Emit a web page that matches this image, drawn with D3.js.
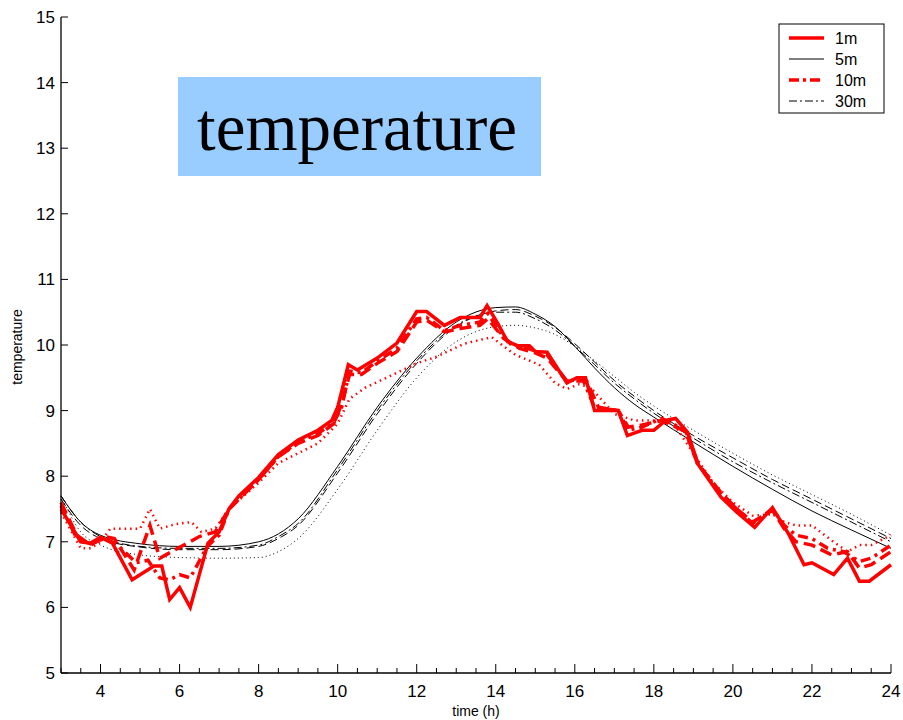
<!DOCTYPE html>
<html>
<head>
<meta charset="utf-8">
<script src="https://cdn.jsdelivr.net/npm/d3@7"></script>
<style>
  body { margin: 0; background: #fff; }
  text { font-family: Arial, "Liberation Sans", sans-serif; }
</style>
</head>
<body>
<div class="chart"></div>
<script>
const hoursRedSolid = [3.0, 3.3, 3.5, 3.75, 4.0, 4.3, 4.8, 5.35, 5.55, 5.75, 6.0, 6.27, 6.72, 7.0, 7.25, 7.5, 8.0, 8.5, 9.0, 9.5, 9.85, 10.0, 10.27, 10.5, 11.0, 11.5, 12.0, 12.25, 12.7, 13.1, 13.6, 13.78, 14.05, 14.3, 14.55, 14.85, 15.0, 15.3, 15.8, 16.05, 16.27, 16.5, 17.1, 17.33, 17.7, 18.0, 18.3, 18.55, 18.85, 19.13, 19.7, 20.1, 20.55, 21.0, 21.4, 21.8, 22.0, 22.55, 22.9, 23.2, 23.45, 24.0];
const tempRedSolid  = [7.5, 7.2, 7.0, 6.98, 7.07, 6.98, 6.42, 6.63, 6.63, 6.12, 6.3, 6.0, 6.98, 7.15, 7.5, 7.7, 7.98, 8.33, 8.55, 8.7, 8.85, 9.05, 9.7, 9.62, 9.8, 10.03, 10.51, 10.51, 10.3, 10.42, 10.42, 10.6, 10.33, 10.05, 9.99, 9.99, 9.9, 9.89, 9.42, 9.5, 9.5, 9.0, 9.0, 8.62, 8.7, 8.7, 8.85, 8.88, 8.67, 8.17, 7.68, 7.45, 7.22, 7.52, 7.13, 6.65, 6.68, 6.5, 6.75, 6.4, 6.4, 6.65];

const hoursRedDash = [3.0, 3.4, 3.75, 4.1, 4.35, 4.85, 5.25, 5.5, 5.8, 6.2, 6.5, 6.9, 7.25, 8.0, 8.5, 9.0, 9.5, 9.9, 10.1, 10.3, 10.6, 11.0, 11.5, 12.0, 12.25, 12.7, 13.1, 13.6, 13.8, 14.2, 14.6, 15.0, 15.3, 15.8, 16.3, 16.6, 17.1, 17.35, 17.7, 18.2, 18.8, 19.1, 19.7, 20.1, 20.5, 21.0, 21.3, 21.6, 22.0, 22.5, 22.9, 23.2, 23.5, 24.0];
const tempRedDash  = [7.6, 7.1, 6.95, 7.08, 7.05, 6.57, 7.25, 6.75, 6.85, 6.98, 7.08, 7.15, 7.5, 7.95, 8.3, 8.5, 8.62, 8.8, 9.1, 9.55, 9.55, 9.72, 9.9, 10.35, 10.38, 10.2, 10.25, 10.3, 10.4, 10.1, 9.95, 9.88, 9.8, 9.45, 9.45, 9.05, 9.0, 8.75, 8.78, 8.85, 8.68, 8.2, 7.75, 7.5, 7.3, 7.48, 7.2, 7.0, 6.95, 6.8, 6.85, 6.6, 6.65, 6.85];

const hoursRedDashDot = [3.0, 3.4, 3.75, 4.1, 4.4, 4.9, 5.2, 5.5, 5.75, 6.0, 6.27, 6.7, 7.0, 7.25, 8.0, 8.5, 9.0, 9.5, 9.9, 10.1, 10.3, 10.6, 11.0, 11.5, 12.0, 12.25, 12.7, 13.1, 13.6, 13.8, 14.1, 14.4, 14.8, 15.3, 15.8, 16.2, 16.5, 17.1, 17.35, 17.7, 18.2, 18.8, 19.1, 19.7, 20.1, 20.5, 21.0, 21.3, 21.6, 22.0, 22.4, 22.8, 23.2, 23.5, 24.0];
const tempRedDashDot  = [7.55, 7.05, 6.97, 7.05, 6.97, 6.68, 6.72, 6.45, 6.42, 6.5, 6.45, 6.93, 7.1, 7.5, 7.95, 8.3, 8.52, 8.65, 8.82, 9.05, 9.6, 9.58, 9.75, 9.95, 10.4, 10.42, 10.22, 10.3, 10.35, 10.48, 10.2, 10.0, 9.95, 9.85, 9.45, 9.48, 9.05, 9.0, 8.7, 8.75, 8.88, 8.7, 8.2, 7.72, 7.5, 7.28, 7.5, 7.25, 7.1, 7.05, 6.9, 6.85, 6.7, 6.75, 6.95];

const hoursRedDot = [3.0, 3.5, 3.75, 4.0, 4.25, 5.0, 5.25, 5.5, 5.9, 6.3, 6.55, 6.9, 7.25, 8.0, 8.5, 9.0, 9.5, 10.0, 10.3, 10.7, 11.3, 12.0, 12.5, 13.2, 13.9, 14.2, 14.5, 15.1, 15.5, 15.8, 16.1, 16.4, 17.0, 17.5, 18.0, 18.5, 19.0, 19.5, 20.0, 20.5, 21.0, 21.3, 21.6, 22.0, 22.5, 22.9, 23.2, 23.5, 24.0];
const tempRedDot  = [7.45, 6.9, 6.9, 7.0, 7.2, 7.2, 7.5, 7.2, 7.27, 7.3, 7.15, 7.2, 7.5, 7.9, 8.2, 8.35, 8.5, 8.8, 9.18, 9.35, 9.52, 9.72, 9.82, 10.02, 10.12, 9.98, 9.85, 9.7, 9.42, 9.33, 9.4, 9.35, 8.95, 8.85, 8.85, 8.8, 8.35, 7.9, 7.6, 7.4, 7.42, 7.3, 7.25, 7.25, 7.02, 6.85, 6.95, 6.95, 7.1];

// black (model) series
const modelHours    = [3, 3.5, 4, 5, 6, 7, 8, 8.5, 9, 10, 11, 12, 13, 14, 14.5, 15, 15.5, 16, 16.5, 17, 17.5, 18, 19, 20, 21, 22, 23, 24];
const modelSolid    = [7.7, 7.3, 7.1, 6.97, 6.93, 6.93, 7.0, 7.12, 7.35, 8.15, 9.05, 9.8, 10.35, 10.57, 10.58, 10.47, 10.28, 9.98, 9.65, 9.35, 9.1, 8.9, 8.52, 8.15, 7.8, 7.47, 7.18, 6.9];
const modelDash     = [7.65, 7.25, 7.05, 6.92, 6.88, 6.88, 6.93, 7.05, 7.25, 8.05, 8.95, 9.72, 10.28, 10.52, 10.54, 10.44, 10.27, 10.02, 9.74, 9.46, 9.22, 9.0, 8.62, 8.28, 7.95, 7.65, 7.35, 7.05];
const modelDashDot  = [7.7, 7.3, 7.08, 6.93, 6.9, 6.9, 6.95, 7.08, 7.28, 8.1, 9.0, 9.76, 10.3, 10.5, 10.5, 10.4, 10.23, 9.98, 9.7, 9.42, 9.18, 8.96, 8.58, 8.22, 7.9, 7.6, 7.3, 7.0];
const modelDot      = [7.7, 7.15, 6.95, 6.8, 6.76, 6.75, 6.76, 6.85, 7.05, 7.8, 8.7, 9.5, 10.05, 10.28, 10.3, 10.26, 10.16, 9.98, 9.76, 9.52, 9.28, 9.07, 8.7, 8.35, 8.02, 7.72, 7.42, 7.1];

const legendLabels = ["1m", "5m", "10m", "30m"];
const xTickLabels = [4, 6, 8, 10, 12, 14, 16, 18, 20, 22, 24];
const yTickLabels = [5, 6, 7, 8, 9, 10, 11, 12, 13, 14, 15];

const width = 903, height = 720;
const margin = { left: 61, right: 12, top: 17, bottom: 47 };

const svg = d3.select(".chart")
  .append("svg")
  .attr("width", width)
  .attr("height", height)
  .style("display", "block");

const xScale = d3.scaleLinear().domain([3, 24]).range([margin.left, width - margin.right]);
const yScale = d3.scaleLinear().domain([5, 15]).range([height - margin.bottom, margin.top]);

// title box
svg.append("rect")
  .attr("x", 178).attr("y", 77)
  .attr("width", 363).attr("height", 99)
  .attr("fill", "#99ccff");
svg.append("text")
  .attr("x", 357).attr("y", 150)
  .attr("text-anchor", "middle")
  .style("font-family", "'Liberation Serif', 'Times New Roman', serif")
  .style("font-size", "67px")
  .text("temperature");

const zip = (xs, ys) => xs.map((x, i) => [x, ys[i]]);

const series = [
  { pts: zip(modelHours, modelDot), color: "#000", w: 1, dash: "1,3", curve: d3.curveMonotoneX },
  { pts: zip(modelHours, modelDashDot), color: "#000", w: 1, dash: "8,3,2,3", curve: d3.curveMonotoneX },
  { pts: zip(modelHours, modelDash), color: "#000", w: 1, dash: "8,4", curve: d3.curveMonotoneX },
  { pts: zip(modelHours, modelSolid), color: "#000", w: 1, dash: null, curve: d3.curveMonotoneX },
  { pts: zip(hoursRedDot, tempRedDot), color: "#ff0000", w: 2.5, dash: "1.5,4", curve: d3.curveLinear },
  { pts: zip(hoursRedDashDot, tempRedDashDot), color: "#ff0000", w: 3.5, dash: "10,5,3,5", curve: d3.curveLinear },
  { pts: zip(hoursRedDash, tempRedDash), color: "#ff0000", w: 3.5, dash: "12,6", curve: d3.curveLinear },
  { pts: zip(hoursRedSolid, tempRedSolid), color: "#ff0000", w: 3.5, dash: null, curve: d3.curveLinear }
];

series.forEach((s) => {
  const line = d3.line()
    .x((d) => xScale(d[0]))
    .y((d) => yScale(d[1]))
    .curve(s.curve);
  svg.append("path")
    .datum(s.pts)
    .attr("d", line)
    .attr("fill", "none")
    .attr("stroke", s.color)
    .attr("stroke-width", s.w)
    .attr("stroke-dasharray", s.dash)
    .attr("stroke-linejoin", "miter");
});

// x axis: minor ticks every half hour, major ticks with labels
const xAxisY = yScale(5);
svg.append("line")
  .attr("x1", xScale(3)).attr("x2", xScale(24))
  .attr("y1", xAxisY).attr("y2", xAxisY)
  .attr("stroke", "#000").attr("stroke-width", 1.3);

const halfHours = d3.range(3, 24.01, 0.5);
svg.selectAll(".xminor")
  .data(halfHours)
  .join("line")
  .attr("class", "xminor")
  .attr("x1", (d) => xScale(d)).attr("x2", (d) => xScale(d))
  .attr("y1", xAxisY)
  .attr("y2", (d) => xTickLabels.includes(d) ? xAxisY - 9 : xAxisY - 5)
  .attr("stroke", "#000").attr("stroke-width", 1);

svg.selectAll(".xlabel")
  .data(xTickLabels)
  .join("text")
  .attr("class", "xlabel")
  .attr("x", (d) => xScale(d))
  .attr("y", xAxisY + 24)
  .attr("text-anchor", "middle")
  .style("font-size", "17px")
  .text((d) => d);

// y axis
svg.append("line")
  .attr("x1", margin.left).attr("x2", margin.left)
  .attr("y1", yScale(15)).attr("y2", yScale(5))
  .attr("stroke", "#000").attr("stroke-width", 1.3);

svg.selectAll(".ytick")
  .data(yTickLabels)
  .join("line")
  .attr("class", "ytick")
  .attr("x1", margin.left).attr("x2", margin.left + 7)
  .attr("y1", (d) => yScale(d)).attr("y2", (d) => yScale(d))
  .attr("stroke", "#000").attr("stroke-width", 1);

svg.selectAll(".ylabel")
  .data(yTickLabels)
  .join("text")
  .attr("class", "ylabel")
  .attr("x", margin.left - 6)
  .attr("y", (d) => yScale(d) + 6)
  .attr("text-anchor", "end")
  .style("font-size", "17px")
  .text((d) => d);

// axis titles
svg.append("text")
  .attr("x", (xScale(3) + xScale(24)) / 2)
  .attr("y", 716)
  .attr("text-anchor", "middle")
  .style("font-size", "14px")
  .text("time (h)");

svg.append("text")
  .attr("transform", `translate(22, ${yScale(10) + 2}) rotate(-90)`)
  .attr("text-anchor", "middle")
  .style("font-size", "14px")
  .text("temperature");

// legend
const legendStyles = [
  { color: "#ff0000", w: 3.5, dash: null },
  { color: "#000", w: 1, dash: null },
  { color: "#ff0000", w: 3.5, dash: "10,4,3,4" },
  { color: "#000", w: 1, dash: "8,3,2,3" }
];
const legend = svg.append("g").attr("transform", "translate(779, 24)");
legend.append("rect")
  .attr("width", 105).attr("height", 89)
  .attr("fill", "#fff")
  .attr("stroke", "#000").attr("stroke-width", 1);

const legendRow = legend.selectAll(".row")
  .data(legendLabels)
  .join("g")
  .attr("class", "row")
  .attr("transform", (d, i) => `translate(0, ${14 + i * 21})`);

legendRow.append("line")
  .attr("x1", 10).attr("x2", 45)
  .attr("y1", 0).attr("y2", 0)
  .attr("stroke", (d, i) => legendStyles[i].color)
  .attr("stroke-width", (d, i) => legendStyles[i].w)
  .attr("stroke-dasharray", (d, i) => legendStyles[i].dash);

legendRow.append("text")
  .attr("x", 56)
  .attr("y", 6)
  .style("font-size", "16px")
  .text((d) => d);
</script>
</body>
</html>
